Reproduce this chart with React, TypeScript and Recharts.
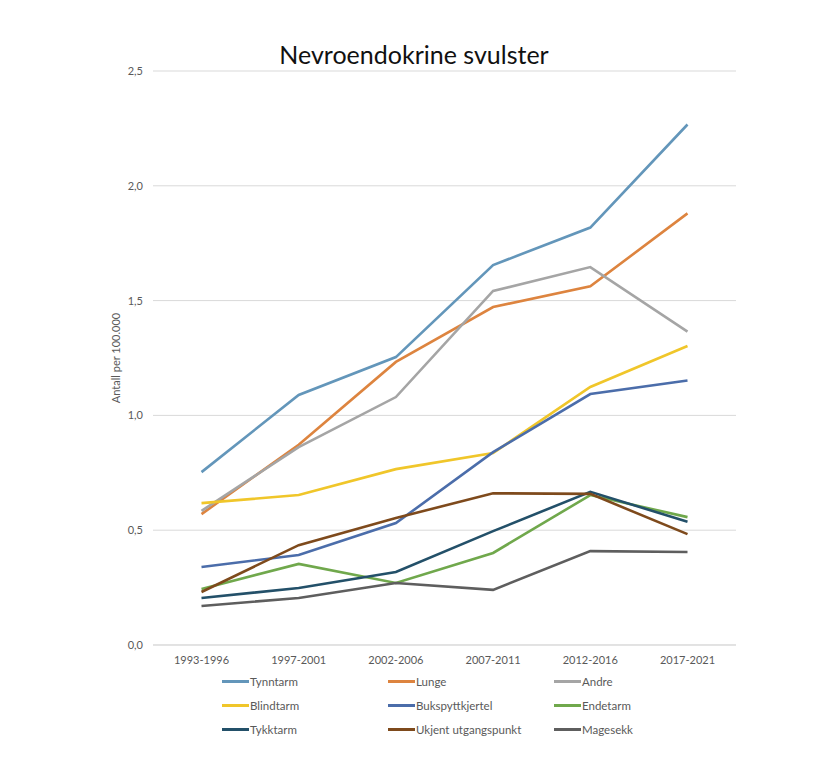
import React from 'react';
import { LineChart, Line, XAxis, YAxis, CartesianGrid, Legend, Label } from 'recharts';

const categories = ['1993-1996', '1997-2001', '2002-2006', '2007-2011', '2012-2016', '2017-2021'];

const tynntarm = [0.753, 1.089, 1.254, 1.655, 1.818, 2.267];
const lunge = [0.57, 0.872, 1.233, 1.472, 1.562, 1.88];
const andre = [0.584, 0.862, 1.08, 1.542, 1.646, 1.365];
const blindtarm = [0.618, 0.653, 0.766, 0.836, 1.124, 1.302];
const bukspyttkjertel = [0.34, 0.392, 0.531, 0.84, 1.093, 1.152];
const endetarm = [0.244, 0.353, 0.27, 0.401, 0.653, 0.557];
const tykktarm = [0.205, 0.248, 0.318, 0.496, 0.667, 0.537];
const ukjent = [0.231, 0.435, 0.553, 0.661, 0.658, 0.483];
const magesekk = [0.17, 0.205, 0.27, 0.24, 0.409, 0.405];

const yTicks = [0, 0.5, 1, 1.5, 2, 2.5];

const seriesDefs = [
  { key: 'Tynntarm', values: tynntarm, color: '#6396BA' },
  { key: 'Lunge', values: lunge, color: '#DD843F' },
  { key: 'Andre', values: andre, color: '#A5A5A5' },
  { key: 'Blindtarm', values: blindtarm, color: '#F0C62A' },
  { key: 'Bukspyttkjertel', values: bukspyttkjertel, color: '#4B6DAA' },
  { key: 'Endetarm', values: endetarm, color: '#70A84C' },
  { key: 'Tykktarm', values: tykktarm, color: '#235069' },
  { key: 'Ukjent utgangspunkt', values: ukjent, color: '#7E4A1C' },
  { key: 'Magesekk', values: magesekk, color: '#5E5E5E' },
];

const seriesOrder = seriesDefs.map((s) => s.key);

const data = categories.map((c, i) => {
  const row: Record<string, string | number> = { name: c };
  seriesDefs.forEach((s) => {
    row[s.key] = s.values[i];
  });
  return row;
});

const FONT = 'Lato, "Open Sans", sans-serif';

const renderLegend = (props: any) => {
  const payload = [...(props.payload || [])].sort(
    (a: any, b: any) => seriesOrder.indexOf(a.value) - seriesOrder.indexOf(b.value)
  );
  return (
    <div
      style={{
        height: 73,
        width: 812,
        display: 'grid',
        gridTemplateColumns: '166px 166px 166px',
        gridAutoRows: '24px',
        paddingLeft: 214,
        boxSizing: 'border-box',
        fontFamily: FONT,
        fontSize: 11.5,
        color: '#595959',
      }}
    >
      {payload.map((p: any) => (
        <div key={p.value} style={{ display: 'flex', alignItems: 'center', height: 24 }}>
          <span style={{ display: 'inline-block', width: 27, height: 3, background: p.color, marginRight: 1 }} />
          <span>{p.value}</span>
        </div>
      ))}
    </div>
  );
};

export default function App() {
  return (
    <div style={{ position: 'relative', width: 812, height: 746, background: '#fff' }}>
      <div
        style={{
          position: 'absolute',
          top: 32,
          left: 0,
          width: 812,
          textAlign: 'center',
          fontFamily: FONT,
          fontSize: 25,
          lineHeight: '28px',
          color: '#111',
        }}
      >
        Nevroendokrine svulster
      </div>
      <LineChart
        width={812}
        height={746}
        data={data}
        margin={{ top: 63, right: 84, left: 0, bottom: 12 }}
        style={{ fontFamily: FONT }}
      >
        <CartesianGrid vertical={false} stroke="#D9D9D9" />
        <XAxis
          dataKey="name"
          tickLine={false}
          axisLine={{ stroke: '#D9D9D9' }}
          padding={{ left: 48.5, right: 48.5 }}
          tick={{ fill: '#595959', fontSize: 11 }}
          tickMargin={5}
          height={24}
          interval={0}
        />
        <YAxis
          domain={[0, 2.5]}
          ticks={yTicks}
          width={145}
          tickLine={false}
          axisLine={false}
          tick={{ fill: '#595959', fontSize: 11 }}
          tickMargin={4}
          tickFormatter={(v: number) => v.toFixed(1).replace('.', ',')}
        >
          <Label
            value="Antall per 100.000"
            angle={-90}
            position="center"
            dx={36}
            style={{ fill: '#595959', fontSize: 11, fontFamily: FONT }}
          />
        </YAxis>
        <Legend verticalAlign="bottom" content={renderLegend} wrapperStyle={{ left: 0, width: 812 }} />
        {seriesDefs.map((s) => (
          <Line
            key={s.key}
            type="linear"
            dataKey={s.key}
            stroke={s.color}
            strokeWidth={2.6}
            dot={false}
            activeDot={false}
            isAnimationActive={false}
          />
        ))}
      </LineChart>
    </div>
  );
}
